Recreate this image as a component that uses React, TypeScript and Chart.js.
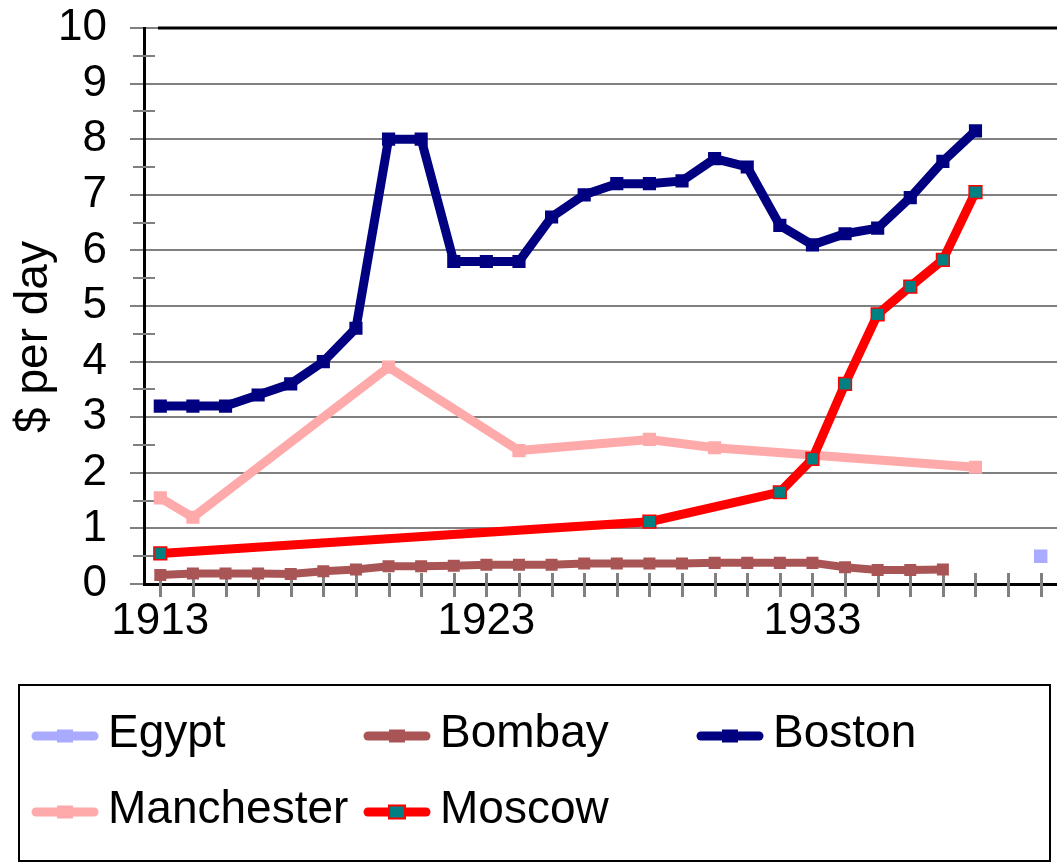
import React, { useEffect, useRef } from "react";
import { Chart, registerables } from "chart.js";

Chart.register(...registerables);

const years = [
  "1913", "1914", "1915", "1916", "1917", "1918", "1919", "1920", "1921", "1922",
  "1923", "1924", "1925", "1926", "1927", "1928", "1929", "1930", "1931", "1932",
  "1933", "1934", "1935", "1936", "1937", "1938", "1939", "1940",
];

const egypt: (number | null)[] = [
  null, null, null, null, null, null, null, null, null, null,
  null, null, null, null, null, null, null, null, null, null,
  null, null, null, null, null, null, null, 0.5,
];

const bombay: (number | null)[] = [
  0.16, 0.19, 0.19, 0.19, 0.18, 0.23, 0.26, 0.32, 0.32, 0.33,
  0.345, 0.345, 0.345, 0.37, 0.37, 0.37, 0.37, 0.38, 0.38, 0.38,
  0.38, 0.3, 0.25, 0.25, 0.26, null, null, null,
];

const boston: (number | null)[] = [
  3.2, 3.2, 3.2, 3.4, 3.6, 4.0, 4.6, 8.0, 8.0, 5.8,
  5.8, 5.8, 6.6, 7.0, 7.2, 7.2, 7.25, 7.65, 7.5, 6.45,
  6.1, 6.3, 6.4, 6.95, 7.6, 8.15, null, null,
];

const manchester: (number | null)[] = [
  1.55, 1.2, null, null, null, null, null, 3.9, null, null,
  null, 2.4, null, null, null, 2.6, null, 2.45, null, null,
  null, null, null, null, null, 2.1, null, null,
];

const moscow: (number | null)[] = [
  0.55, null, null, null, null, null, null, null, null, null,
  null, null, null, null, null, 1.12, null, null, null, 1.65,
  2.25, 3.6, 4.85, 5.35, 5.83, 7.05, null, null,
];

const yTicks = [0, 1, 2, 3, 4, 5, 6, 7, 8, 9, 10];
const yTitle = "$ per day";
const FONT = "'Liberation Sans', Arial, sans-serif";

const decorations = {
  id: "decorations",
  beforeDatasetsDraw(chart: any) {
    const { ctx, chartArea } = chart;
    const x = chart.scales.x;
    const y = chart.scales.y;
    ctx.save();
    ctx.strokeStyle = "#808080";
    // minor y ticks
    ctx.lineWidth = 2;
    for (let i = 0; i < yTicks.length - 1; i++) {
      const py = Math.round(y.getPixelForValue(yTicks[i] + 0.5));
      ctx.beginPath();
      ctx.moveTo(chartArea.left - 11, py);
      ctx.lineTo(chartArea.left + 11, py);
      ctx.stroke();
    }
    // x ticks crossing axis
    ctx.lineWidth = 3;
    for (let i = 0; i < years.length; i++) {
      const px = Math.round(x.getPixelForTick(i)) + 0.5;
      ctx.beginPath();
      ctx.moveTo(px, chartArea.bottom - 11);
      ctx.lineTo(px, chartArea.bottom + 13);
      ctx.stroke();
    }
    // top border
    ctx.strokeStyle = "#000";
    ctx.lineWidth = 3;
    ctx.beginPath();
    ctx.moveTo(chartArea.left + 14, chartArea.top);
    ctx.lineTo(chartArea.right, chartArea.top);
    ctx.stroke();
    ctx.restore();
  },
  afterDraw(chart: any) {
    const { ctx } = chart;
    ctx.save();
    // y-axis title
    ctx.fillStyle = "#000";
    ctx.font = `46px ${FONT}`;
    ctx.translate(34, 337);
    ctx.rotate(-Math.PI / 2);
    ctx.textAlign = "center";
    ctx.textBaseline = "middle";
    ctx.fillText(yTitle, 0, 0);
    ctx.restore();

    // legend
    ctx.save();
    ctx.strokeStyle = "#000";
    ctx.lineWidth = 2;
    ctx.strokeRect(19, 685, 1031, 176);
    const cols = [32, 364, 697];
    const rows = [736, 812];
    chart.data.datasets.forEach((ds: any, i: number) => {
      const lx = cols[i % 3];
      const ly = rows[Math.floor(i / 3)];
      ctx.strokeStyle = ds.borderColor;
      ctx.lineWidth = 9;
      ctx.lineCap = "round";
      ctx.beginPath();
      ctx.moveTo(lx + 4, ly);
      ctx.lineTo(lx + 62, ly);
      ctx.stroke();
      ctx.lineCap = "butt";
      ctx.fillStyle = ds.pointBackgroundColor;
      ctx.fillRect(lx + 25, ly - 6.5, 16, 13);
      if (ds.pointBorderColor && ds.pointBorderColor !== ds.pointBackgroundColor) {
        ctx.strokeStyle = ds.pointBorderColor;
        ctx.lineWidth = 2;
        ctx.strokeRect(lx + 25, ly - 6.5, 16, 13);
      }
      ctx.fillStyle = "#000";
      ctx.font = `46px ${FONT}`;
      ctx.textAlign = "left";
      ctx.textBaseline = "middle";
      ctx.fillText(ds.label, lx + 76, ly - 2);
    });
    ctx.restore();
  },
};

export default function App() {
  const ref = useRef<HTMLCanvasElement | null>(null);
  useEffect(() => {
    if (!ref.current) return;
    Chart.defaults.font.family = FONT;
    const mk = (label: string, data: (number | null)[], color: string, width: number, radius: number, order: number, pointBg?: string, pointBorder?: string) => ({
      label,
      data,
      borderColor: color,
      backgroundColor: color,
      borderWidth: width,
      pointStyle: "rect",
      pointRadius: radius,
      pointBackgroundColor: pointBg || color,
      pointBorderColor: pointBorder || color,
      pointBorderWidth: pointBorder ? 1.5 : 0,
      tension: 0,
      spanGaps: true,
      fill: false,
      order,
    });
    const chart = new Chart(ref.current, {
      type: "line",
      data: {
        labels: years,
        datasets: [
          mk("Egypt", egypt, "#AAAAFF", 9, 9.5, 5),
          mk("Bombay", bombay, "#AA5555", 8, 8.5, 4),
          mk("Boston", boston, "#000080", 9, 9.3, 3),
          mk("Manchester", manchester, "#FFAAAA", 9, 9.3, 2),
          mk("Moscow", moscow, "#FF0000", 9, 9, 1, "#008080", "#FF0000"),
        ] as any,
      },
      options: {
        responsive: false,
        animation: false,
        layout: { autoPadding: false, padding: { left: 0, right: -3, top: 28, bottom: 199 } },
        plugins: { legend: { display: false }, tooltip: { enabled: false } },
        scales: {
          x: {
            type: "category",
            offset: true,
            grid: {
              display: true,
              drawOnChartArea: false,
              drawTicks: true,
              tickLength: 13,
              color: "rgba(0,0,0,0)",
            },
            border: { display: true, color: "#000", width: 3 },
            ticks: {
              autoSkip: false,
              maxRotation: 0,
              minRotation: 0,
              padding: 3,
              color: "#000",
              font: { size: 44, lineHeight: 1 },
              callback: (_v: any, i: number) => (i % 10 === 0 ? years[i] : ""),
            },
            afterFit: (s: any) => {
              s.height = 80;
              s.paddingLeft = 0;
              s.paddingRight = 0;
            },
          },
          y: {
            min: 0,
            max: 10,
            afterBuildTicks: (s: any) => {
              s.ticks = yTicks.map((v) => ({ value: v }));
            },
            grid: {
              color: "#808080",
              lineWidth: 2,
              tickLength: 14,
            },
            border: { display: true, color: "#000", width: 3 },
            ticks: {
              padding: 23,
              color: "#000",
              font: { size: 44, lineHeight: 1 },
            },
            afterFit: (s: any) => {
              s.width = 144;
              s.paddingTop = 0;
              s.paddingBottom = 0;
            },
          },
        },
      },
      plugins: [decorations],
    });
    return () => chart.destroy();
  }, []);
  return (
    <div style={{ position: "absolute", left: 0, top: 0 }}>
      <canvas ref={ref} width={1057} height={863} style={{ display: "block" }} />
    </div>
  );
}
